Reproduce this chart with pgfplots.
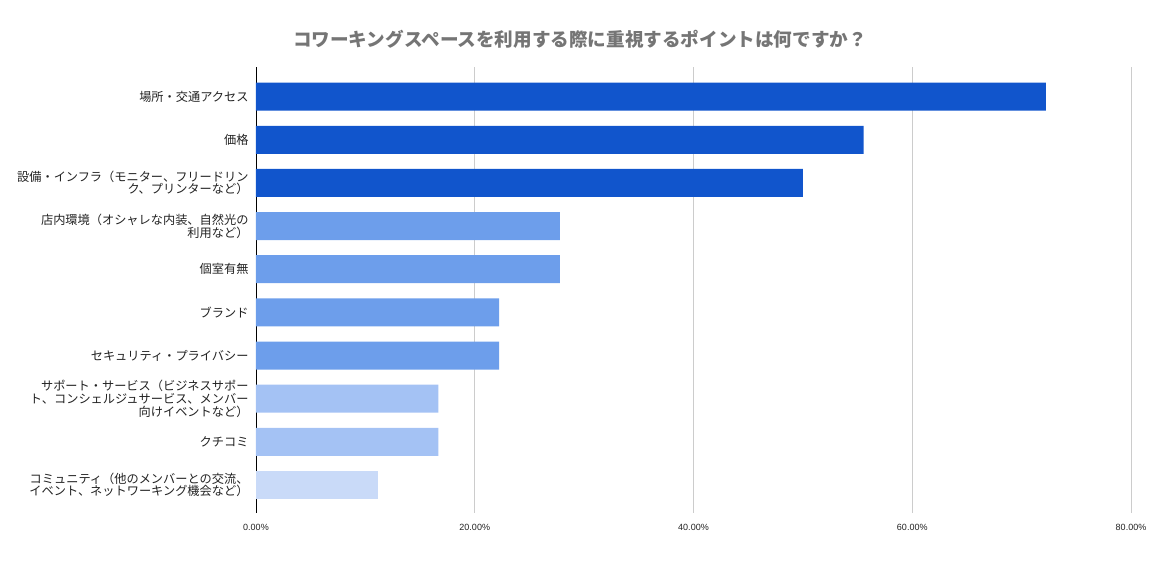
\documentclass[border=0pt]{standalone}
\usepackage{fontspec}
\setmainfont{Liberation Sans}
\newfontfamily\jp{Noto Sans CJK JP}
\usepackage{pgfplots}
\pgfplotsset{compat=1.18}
\definecolor{cA}{HTML}{1155CC}
\definecolor{cB}{HTML}{6D9EEB}
\definecolor{cC}{HTML}{A4C2F4}
\definecolor{cD}{HTML}{C9DAF8}
\definecolor{titlegray}{HTML}{757575}
\definecolor{gridgray}{HTML}{CCCCCC}
\definecolor{txt}{HTML}{222222}
\begin{document}
\begin{tikzpicture}[x=1pt,y=1pt]
\path[use as bounding box] (0,0) rectangle (1160,561);
\node[font=\jp\bfseries\fontsize{18.6}{20}\selectfont, text=titlegray] at (580,522) {コワーキングスペースを利用する際に重視するポイントは何ですか？};
\begin{axis}[
  at={(256pt,48pt)}, anchor=south west,
  scale only axis, width=875pt, height=445.7pt,
  xbar, bar shift=0pt, bar width=28pt,
  xmin=0, xmax=80,
  ymin=-0.68, ymax=9.65, y dir=reverse,
  axis lines=left,
  axis line style={-, draw=black, line width=0.8pt},
  x axis line style={draw=none},
  major tick length=0pt,
  xtick={0,20,40,60,80},
  xticklabels={0.00\%,20.00\%,40.00\%,60.00\%,80.00\%},
  xticklabel style={font=\fontsize{9}{10}\selectfont, text=txt, yshift=-8pt},
  xmajorgrids, grid style={gridgray, line width=0.8pt},
  ytick={0,...,9},
  yticklabels={
    {場所・交通アクセス},
    {価格},
    {設備・インフラ（モニター、フリードリン\\ク、プリンターなど）},
    {店内環境（オシャレな内装、自然光の\\利用など）},
    {個室有無},
    {ブランド},
    {セキュリティ・プライバシー},
    {サポート・サービス（ビジネスサポー\\ト、コンシェルジュサービス、メンバー\\向けイベントなど）},
    {クチコミ},
    {コミュニティ（他のメンバーとの交流、\\イベント、ネットワーキング機会など）}},
  yticklabel style={align=right, font=\jp\fontsize{12.2}{12.8}\selectfont, text=txt, xshift=-4pt},
]
\addplot[fill=cA, draw=none] coordinates {(72.22,0) (55.56,1) (50.00,2)};
\addplot[fill=cB, draw=none] coordinates {(27.78,3) (27.78,4) (22.22,5) (22.22,6)};
\addplot[fill=cC, draw=none] coordinates {(16.67,7) (16.67,8)};
\addplot[fill=cD, draw=none] coordinates {(11.11,9)};
\end{axis}
\end{tikzpicture}
\end{document}
